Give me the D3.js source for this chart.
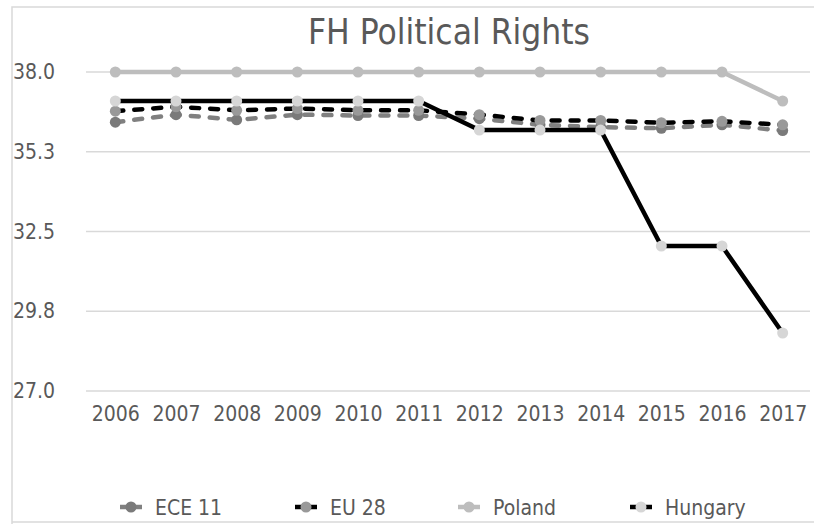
<!DOCTYPE html>
<html>
<head>
<meta charset="utf-8">
<script src="https://cdn.jsdelivr.net/npm/d3@7"></script>
<style>
  html, body { margin: 0; padding: 0; background: #fff; }
  svg { display: block; font-family: "DejaVu Sans Condensed", "DejaVu Sans", sans-serif; }
</style>
</head>
<body>
<svg id="chart" width="814" height="524"></svg>
<script>
// ---- data ----
const years = ["2006","2007","2008","2009","2010","2011","2012","2013","2014","2015","2016","2017"];
const yTicks = [27.0, 29.75, 32.5, 35.25, 38.0];
const ece11   = [36.27, 36.53, 36.35, 36.53, 36.5, 36.5, 36.39, 36.18, 36.1, 36.06, 36.18, 35.98];
const eu28    = [36.65, 36.8, 36.68, 36.74, 36.68, 36.68, 36.53, 36.33, 36.33, 36.25, 36.3, 36.18];
const poland  = [38, 38, 38, 38, 38, 38, 38, 38, 38, 38, 38, 37];
const hungary = [37, 37, 37, 37, 37, 37, 36, 36, 36, 32, 32, 29];
const seriesNames = ["ECE 11", "EU 28", "Poland", "Hungary"];

const series = [
  { name: seriesNames[0], values: ece11,   line: "#808080", marker: "#7a7a7a", dash: "8,11" },
  { name: seriesNames[1], values: eu28,    line: "#000000", marker: "#999999", dash: "8,11" },
  { name: seriesNames[2], values: poland,  line: "#bdbdbd", marker: "#bdbdbd", dash: null },
  { name: seriesNames[3], values: hungary, line: "#000000", marker: "#d6d6d6", dash: null }
];

const svg = d3.select("#chart");
const textColor = "#595959";
const font = "DejaVu Sans Condensed, DejaVu Sans, sans-serif";

// frame
svg.append("path")
  .attr("d", "M12,830 L12,7 L830,7")
  .attr("fill", "none").attr("stroke", "#d9d9d9").attr("stroke-width", 1.5);
svg.append("path")
  .attr("d", "M12,522 L830,522")
  .attr("fill", "none").attr("stroke", "#d9d9d9").attr("stroke-width", 1.5);

// title
svg.append("text")
  .attr("x", 449).attr("y", 44)
  .attr("text-anchor", "middle")
  .attr("font-size", 35).attr("fill", textColor)
  .text("FH Political Rights");

const x = d3.scalePoint().domain(years).range([85, 813]).padding(0.5);
const y = d3.scaleLinear().domain([27, 38]).range([391, 72]);

// gridlines
svg.append("g").selectAll("line").data(yTicks).join("line")
  .attr("x1", 86).attr("x2", 810)
  .attr("y1", d => y(d)).attr("y2", d => y(d))
  .attr("stroke", "#d9d9d9").attr("stroke-width", 1.5);

// y axis
const yAxis = d3.axisLeft(y).tickValues(yTicks).tickFormat(d3.format(".1f")).tickSize(0).tickPadding(0);
const gy = svg.append("g").attr("transform", "translate(55,0)").call(yAxis);
gy.select(".domain").remove();
gy.selectAll("text").attr("font-size", 21).attr("fill", textColor).attr("font-family", font);

// x axis
const xAxis = d3.axisBottom(x).tickSize(0).tickPadding(0);
const gx = svg.append("g").attr("transform", "translate(0,406)").call(xAxis);
gx.select(".domain").remove();
gx.selectAll("text").attr("font-size", 21).attr("fill", textColor).attr("font-family", font);

// lines
const line = d3.line().x((d, i) => x(years[i])).y(d => y(d));
series.forEach(s => {
  const g = svg.append("g");
  g.append("path").datum(s.values)
    .attr("d", line)
    .attr("fill", "none")
    .attr("stroke", s.line)
    .attr("stroke-width", 4.5)
    .attr("stroke-linecap", s.dash ? "round" : "butt")
    .attr("stroke-linejoin", "round")
    .attr("stroke-dasharray", s.dash);
  g.selectAll("circle").data(s.values).join("circle")
    .attr("cx", (d, i) => x(years[i]))
    .attr("cy", d => y(d))
    .attr("r", 5.5)
    .attr("fill", s.marker);
});

// legend
const legendX = [131, 306, 469, 641];
const lg = svg.append("g");
series.forEach((s, i) => {
  const cx = legendX[i], cy = 507;
  lg.append("line")
    .attr("x1", cx - 11).attr("x2", cx + 11)
    .attr("y1", cy).attr("y2", cy)
    .attr("stroke", s.line).attr("stroke-width", 4.5);
  lg.append("circle").attr("cx", cx).attr("cy", cy).attr("r", 5.5).attr("fill", s.marker);
  lg.append("text")
    .attr("x", cx + 24).attr("y", cy + 7.5)
    .attr("font-size", 21).attr("fill", textColor)
    .text(s.name);
});
</script>
</body>
</html>
